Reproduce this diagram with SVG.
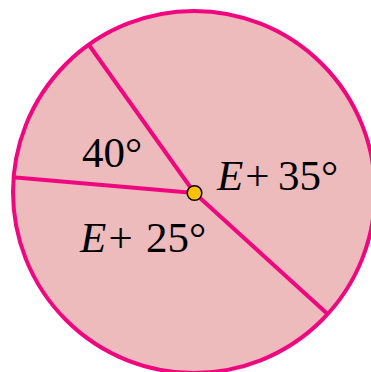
<svg xmlns="http://www.w3.org/2000/svg" width="371" height="372" viewBox="0 0 371 372">
<style>
.ring{fill:#EDBBBB;stroke:#F0077F;stroke-width:4}
.ray{stroke:#F0077F;stroke-width:4;stroke-linecap:butt;fill:none}
.lbl{font-family:"Liberation Serif","Times New Roman",serif;font-size:43px;fill:#000}
.it{font-style:italic}
</style>
<rect width="371" height="372" fill="#FFFFFF"/>
<g id="circle"><circle class="ring" cx="194" cy="192" r="181"/></g>
<g id="connectors">
<line class="ray" x1="194.5" y1="193" x2="89" y2="45"/>
<line class="ray" x1="194.5" y1="193" x2="13" y2="177.3"/>
<line class="ray" x1="194.5" y1="193" x2="327" y2="313.5"/>
</g>
<g id="center"><circle cx="194.5" cy="193" r="7.3" fill="#FFC000" stroke="#000" stroke-width="1.5"/></g>
<g id="label-40"><text class="lbl" x="82" y="167">40°</text></g>
<g id="label-e35"><text class="lbl" y="190"><tspan class="it" x="217">E</tspan><tspan x="245.2">+</tspan><tspan x="278">35°</tspan></text></g>
<g id="label-e25"><text class="lbl" y="252"><tspan class="it" x="80">E</tspan><tspan x="108.5">+</tspan><tspan x="146">25°</tspan></text></g>
</svg>
